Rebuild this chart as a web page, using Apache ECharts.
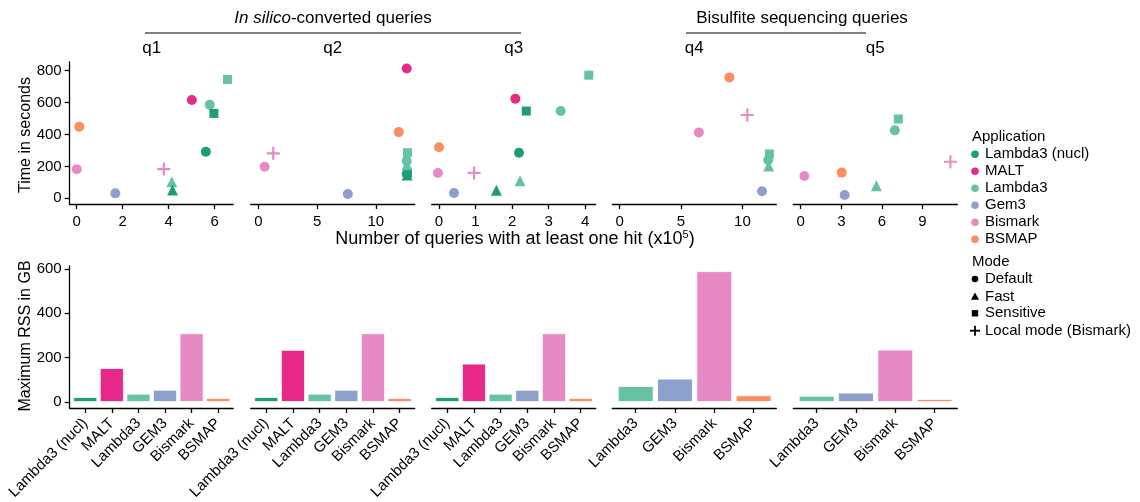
<!DOCTYPE html>
<html>
<head>
<meta charset="utf-8">
<script src="https://cdn.jsdelivr.net/npm/echarts@6/dist/echarts.min.js"></script>
<style>
  html, body { margin: 0; padding: 0; background: #ffffff; }
  #chart { width: 1140px; height: 502px; }
</style>
</head>
<body>
<div id="chart"></div>
<script>
// ---- data ----
const applications = ['Lambda3 (nucl)', 'MALT', 'Lambda3', 'Gem3', 'Bismark', 'BSMAP'];
const appColors = ['#1b9e77', '#e7298a', '#66c2a5', '#8da0cb', '#e78ac3', '#fc8d62'];
const modes = ['Default', 'Fast', 'Sensitive', 'Local mode (Bismark)'];
const queries = ['q1', 'q2', 'q3', 'q4', 'q5'];

// runs: [application, mode, hits (x10^5), time in seconds]
const q1Runs = [
  ['BSMAP', 'Default', 0.11, 449],
  ['Bismark', 'Default', 0.0, 182],
  ['Bismark', 'Local mode (Bismark)', 3.79, 183],
  ['Gem3', 'Default', 1.68, 31],
  ['Lambda3', 'Fast', 4.14, 104],
  ['Lambda3 (nucl)', 'Fast', 4.17, 52],
  ['MALT', 'Default', 5.01, 616],
  ['Lambda3', 'Default', 5.79, 587],
  ['Lambda3 (nucl)', 'Sensitive', 5.97, 532],
  ['Lambda3 (nucl)', 'Default', 5.62, 292],
  ['Lambda3', 'Sensitive', 6.56, 745]
];
const q2Runs = [
  ['MALT', 'Default', 12.63, 814],
  ['BSMAP', 'Default', 11.95, 415],
  ['Bismark', 'Local mode (Bismark)', 1.27, 282],
  ['Bismark', 'Default', 0.54, 198],
  ['Gem3', 'Default', 7.62, 27],
  ['Lambda3 (nucl)', 'Sensitive', 12.69, 158],
  ['Lambda3 (nucl)', 'Fast', 12.66, 146],
  ['Lambda3 (nucl)', 'Default', 12.63, 152],
  ['Lambda3', 'Fast', 12.66, 210],
  ['Lambda3', 'Sensitive', 12.69, 286],
  ['Lambda3', 'Default', 12.63, 234]
];
const q3Runs = [
  ['Lambda3', 'Sensitive', 4.10, 772],
  ['MALT', 'Default', 2.09, 624],
  ['Lambda3 (nucl)', 'Sensitive', 2.39, 547],
  ['Lambda3', 'Default', 3.33, 547],
  ['BSMAP', 'Default', 0.0, 320],
  ['Lambda3 (nucl)', 'Default', 2.19, 286],
  ['Bismark', 'Default', -0.03, 159],
  ['Bismark', 'Local mode (Bismark)', 0.96, 159],
  ['Lambda3', 'Fast', 2.22, 110],
  ['Lambda3 (nucl)', 'Fast', 1.57, 50],
  ['Gem3', 'Default', 0.41, 33]
];
const q4Runs = [
  ['BSMAP', 'Default', 8.94, 758],
  ['Bismark', 'Local mode (Bismark)', 10.4, 522],
  ['Bismark', 'Default', 6.45, 413],
  ['Lambda3', 'Sensitive', 12.2, 278],
  ['Lambda3', 'Fast', 12.14, 202],
  ['Lambda3', 'Default', 12.1, 240],
  ['Gem3', 'Default', 11.6, 44]
];
const q5Runs = [
  ['Lambda3', 'Sensitive', 7.21, 497],
  ['Lambda3', 'Default', 6.95, 426],
  ['Bismark', 'Local mode (Bismark)', 11.06, 229],
  ['BSMAP', 'Default', 3.03, 161],
  ['Bismark', 'Default', 0.27, 140],
  ['Lambda3', 'Fast', 5.59, 79],
  ['Gem3', 'Default', 3.25, 21]
];
const queryRuns = [q1Runs, q2Runs, q3Runs, q4Runs, q5Runs];

// hits axis ranges and ticks per query (x10^5)
const hitRanges = [[-0.305, 6.81], [-0.65, 13.31], [-0.2, 4.29], [-0.6, 12.76], [-0.55, 11.57]];
const hitTicks = [[0, 2, 4, 6], [0, 5, 10], [0, 1, 2, 3, 4], [0, 5, 10], [0, 3, 6, 9]];
const timeTicks = [0, 200, 400, 600, 800];
const memoryTicks = [0, 200, 400, 600];

// peak memory per application (GB)
const memLabelsConverted = ['Lambda3 (nucl)', 'MALT', 'Lambda3', 'GEM3', 'Bismark', 'BSMAP'];
const memLabelsBisulfite = ['Lambda3', 'GEM3', 'Bismark', 'BSMAP'];
const q1Memory = [22, 153, 37, 55, 310, 18];
const q2Memory = [22, 235, 37, 55, 310, 18];
const q3Memory = [22, 173, 37, 55, 310, 18];
const q4Memory = [72, 105, 590, 30];
const q5Memory = [28, 42, 236, 13.5];
const queryMemory = [q1Memory, q2Memory, q3Memory, q4Memory, q5Memory];
const memoryLabels = [memLabelsConverted, memLabelsConverted, memLabelsConverted, memLabelsBisulfite, memLabelsBisulfite];

// ---- layout ----
const FONT = 'Liberation Sans, Arial, sans-serif';
const panelLeft = [69.7, 250.7, 431.7, 612.3, 793.3];
const panelWidth = 164;
const topGrid = { top: 62, height: 142 };
const bottomGrid = { top: 266, height: 142 };

const plusPath = 'path://M5,0H7V5H12V7H7V12H5V7H0V5H5Z';
const modeSymbol = {
  'Default': { symbol: 'circle', size: 10 },
  'Fast': { symbol: 'triangle', size: 11 },
  'Sensitive': { symbol: 'rect', size: 9 },
  'Local mode (Bismark)': { symbol: plusPath, size: 13 }
};
function colorOf(name) {
  const key = name === 'GEM3' ? 'Gem3' : name;
  return appColors[applications.indexOf(key)];
}

const axisLineStyle = { color: '#000', width: 1.3 };
const grids = [], xAxes = [], yAxes = [], series = [];
const gridBox = (i, row) => ({
  left: panelLeft[i], width: i === 0 ? 163.5 : panelWidth, top: row.top, height: row.height,
  containLabel: false, outerBoundsMode: 'none'
});

queries.forEach((q, i) => {
  // run-time scatter panel
  grids.push(gridBox(i, topGrid));
  const gi = grids.length - 1;
  xAxes.push({
    type: 'value', gridIndex: gi, min: hitRanges[i][0], max: hitRanges[i][1],
    splitLine: { show: false },
    axisLine: { show: true, onZero: false, lineStyle: axisLineStyle },
    axisTick: { show: true, length: 5, customValues: hitTicks[i], lineStyle: axisLineStyle },
    axisLabel: { customValues: hitTicks[i], color: '#000', fontSize: 15, fontFamily: FONT, margin: 10 }
  });
  yAxes.push({
    type: 'value', gridIndex: gi, min: -35.7, max: 854.5,
    splitLine: { show: false },
    axisLine: { show: i === 0, onZero: false, lineStyle: axisLineStyle },
    axisTick: { show: i === 0, length: 5, customValues: timeTicks, lineStyle: axisLineStyle },
    axisLabel: { show: i === 0, customValues: timeTicks, color: '#000', fontSize: 15, fontFamily: FONT, margin: 8 }
  });
  series.push({
    type: 'scatter', xAxisIndex: gi, yAxisIndex: gi, silent: true,
    data: queryRuns[i].map(r => ({
      value: [r[2], r[3]],
      symbol: modeSymbol[r[1]].symbol,
      symbolSize: modeSymbol[r[1]].size,
      itemStyle: { color: colorOf(r[0]), opacity: 1 }
    }))
  });

  // peak-memory bar panel
  grids.push(gridBox(i, bottomGrid));
  const bi = grids.length - 1;
  const labels = memoryLabels[i];
  const n = labels.length;
  const pitch = n === 6 ? 26.67 : 39.3;
  const firstOffset = n === 6 ? 15.6 : 23.4;
  const minX = -firstOffset / pitch;
  const maxX = minX + panelWidth / pitch;
  const idx = labels.map((_, k) => k);
  xAxes.push({
    type: 'value', gridIndex: bi, min: minX, max: maxX,
    splitLine: { show: false },
    axisLine: { show: true, onZero: false, lineStyle: axisLineStyle },
    axisTick: { show: true, length: 5, customValues: idx, lineStyle: axisLineStyle },
    axisLabel: {
      customValues: idx, rotate: 45, color: '#000', fontSize: 15, fontFamily: FONT, margin: 13,
      formatter: v => labels[Math.round(v)]
    }
  });
  yAxes.push({
    type: 'value', gridIndex: bi, min: -27.1, max: 613.5,
    splitLine: { show: false },
    axisLine: { show: i === 0, onZero: false, lineStyle: axisLineStyle },
    axisTick: { show: i === 0, length: 5, customValues: memoryTicks, lineStyle: axisLineStyle },
    axisLabel: { show: i === 0, customValues: memoryTicks, color: '#000', fontSize: 15, fontFamily: FONT, margin: 8 }
  });
  series.push({
    type: 'bar', xAxisIndex: bi, yAxisIndex: bi, silent: true,
    barWidth: n === 6 ? 24 : 35.7,
    data: queryMemory[i].map((v, k) => ({
      value: [k, v],
      itemStyle: { color: colorOf(labels[k]), borderColor: '#ffffff', borderWidth: 0.8 }
    }))
  });
});

// ---- titles, headers and legend ----
const textStyle = (extra) => Object.assign({ fill: '#000', fontFamily: FONT, fontSize: 17 }, extra);
const graphic = [];

// query panel titles
queries.forEach((q, i) => {
  graphic.push({ type: 'text', x: panelLeft[i] + panelWidth / 2, y: 48,
    style: textStyle({ text: q, align: 'center', verticalAlign: 'middle' }) });
});

// group headers
graphic.push({ type: 'text', x: 333, y: 18, style: textStyle({
  text: '{i|In silico}-converted queries', align: 'center', verticalAlign: 'middle',
  rich: { i: { fontStyle: 'italic', fontSize: 17, fontFamily: FONT, fill: '#000' } }
}) });
graphic.push({ type: 'line', shape: { x1: 145, y1: 33, x2: 521, y2: 33 }, style: { stroke: '#000', lineWidth: 1.2 } });
graphic.push({ type: 'text', x: 802, y: 18, style: textStyle({ text: 'Bisulfite sequencing queries', align: 'center', verticalAlign: 'middle' }) });
graphic.push({ type: 'line', shape: { x1: 686, y1: 33, x2: 866, y2: 33 }, style: { stroke: '#000', lineWidth: 1.2 } });

// axis titles
graphic.push({ type: 'text', x: 515, y: 239, style: textStyle({
  text: 'Number of queries with at least one hit (x10{s|5})', align: 'center', verticalAlign: 'middle', fontSize: 18,
  rich: { s: { fontSize: 11, fontFamily: FONT, fill: '#000', verticalAlign: 'top', padding: [0, 0, 8, 0] } }
}) });
graphic.push({ type: 'text', x: 26, y: 135, rotation: Math.PI / 2,
  style: textStyle({ text: 'Time in seconds', align: 'center', verticalAlign: 'middle', fontSize: 16 }) });
graphic.push({ type: 'text', x: 26, y: 336, rotation: Math.PI / 2,
  style: textStyle({ text: 'Maximum RSS in GB', align: 'center', verticalAlign: 'middle', fontSize: 16 }) });

// application legend
const legX = 972, legTextX = 985;
graphic.push({ type: 'text', x: legX, y: 137, style: textStyle({ text: 'Application', verticalAlign: 'middle', fontSize: 15 }) });
applications.forEach((a, k) => {
  const y = 154.3 + k * 17;
  graphic.push({ type: 'circle', shape: { cx: 975, cy: y, r: 3.8 }, style: { fill: appColors[k] } });
  graphic.push({ type: 'text', x: legTextX, y: y, style: textStyle({ text: a, verticalAlign: 'middle', fontSize: 15 }) });
});

// mode legend
graphic.push({ type: 'text', x: legX, y: 262, style: textStyle({ text: 'Mode', verticalAlign: 'middle', fontSize: 15 }) });
const modeY = [279, 296.5, 313.3, 330.7];
graphic.push({ type: 'circle', shape: { cx: 975, cy: modeY[0], r: 3.3 }, style: { fill: '#000' } });
graphic.push({ type: 'polygon', shape: { points: [[975, modeY[1] - 4], [979, modeY[1] + 3.2], [971, modeY[1] + 3.2]] }, style: { fill: '#000' } });
graphic.push({ type: 'rect', shape: { x: 971.8, y: modeY[2] - 3.2, width: 6.4, height: 6.4 }, style: { fill: '#000' } });
graphic.push({ type: 'line', shape: { x1: 970, y1: modeY[3], x2: 980, y2: modeY[3] }, style: { stroke: '#000', lineWidth: 1.8 } });
graphic.push({ type: 'line', shape: { x1: 975, y1: modeY[3] - 5, x2: 975, y2: modeY[3] + 5 }, style: { stroke: '#000', lineWidth: 1.8 } });
modes.forEach((m, k) => {
  graphic.push({ type: 'text', x: legTextX, y: modeY[k], style: textStyle({ text: m, verticalAlign: 'middle', fontSize: 15 }) });
});

const chart = echarts.init(document.getElementById('chart'), null, { renderer: 'canvas' });
chart.setOption({
  animation: false,
  backgroundColor: '#ffffff',
  textStyle: { fontFamily: FONT },
  grid: grids,
  xAxis: xAxes,
  yAxis: yAxes,
  series: series,
  graphic: graphic
});
</script>
</body>
</html>
